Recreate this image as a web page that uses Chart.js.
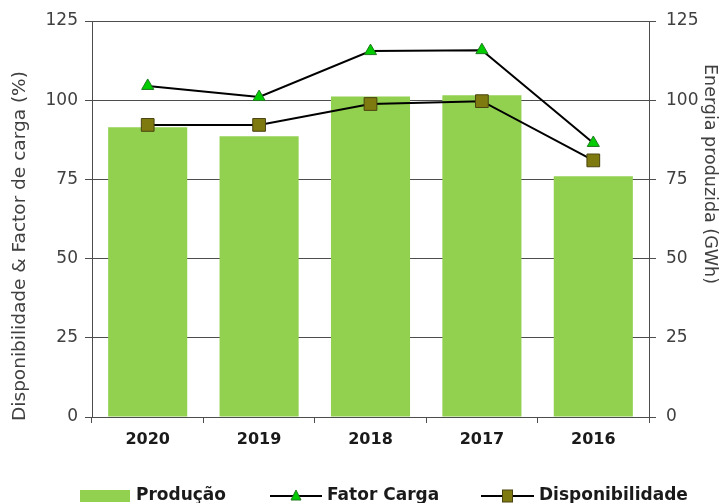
<!DOCTYPE html>
<html>
<head>
<meta charset="utf-8">
<script src="https://cdn.jsdelivr.net/npm/chart.js@4/dist/chart.umd.min.js"></script>
<style>
  html, body { margin: 0; padding: 0; background: #fff; }
  #wrap { width: 722px; height: 503px; }
</style>
</head>
<body>
<div id="wrap"><canvas id="chart"></canvas></div>
<script>
const years = ['2020', '2019', '2018', '2017', '2016'];
const producao = [91.5, 88.6, 101.2, 101.6, 76.0];
const fatorCarga = [104.5, 101.0, 115.5, 115.8, 86.5];
const disponibilidade = [92.2, 92.2, 98.8, 99.7, 81.0];
const yTicks = [0, 25, 50, 75, 100, 125];

const FONT = "'DejaVu Sans', sans-serif";
const GREEN = '#92d050';
const AXIS = '#4d4d4d';
const TEXT = '#404040';

// axis titles placed by hand so they can sit off-centre like the original layout
const axisTitles = {
  id: 'axisTitles',
  afterDraw(chart) {
    const ctx = chart.ctx;
    ctx.save();
    ctx.fillStyle = TEXT;
    ctx.textAlign = 'center';
    ctx.textBaseline = 'middle';

    ctx.font = '18.5px ' + FONT;
    ctx.save();
    ctx.translate(20, 246);
    ctx.rotate(-Math.PI / 2);
    ctx.fillText('Disponibilidade & Factor de carga (%)', 0, 0);
    ctx.restore();

    ctx.font = '17.5px ' + FONT;
    ctx.translate(710, 174);
    ctx.rotate(Math.PI / 2);
    ctx.fillText('Energia produzida (GWh)', 0, 0);
    ctx.restore();
  }
};

// legend drawn by hand under the axis: wide box for bars, line + marker for series
const bottomLegend = {
  id: 'bottomLegend',
  afterDraw(chart) {
    const ctx = chart.ctx;
    const y = 496;
    ctx.save();
    ctx.font = 'bold 17px ' + FONT;
    ctx.textBaseline = 'middle';

    ctx.fillStyle = GREEN;
    ctx.fillRect(80, y - 6, 50, 12);
    ctx.fillStyle = '#1a1a1a';
    ctx.fillText('Produção', 136, y);

    const lineItem = (x0, x1, tx, label, drawMarker) => {
      ctx.strokeStyle = '#000';
      ctx.lineWidth = 2;
      ctx.beginPath();
      ctx.moveTo(x0, y);
      ctx.lineTo(x1, y);
      ctx.stroke();
      drawMarker((x0 + x1) / 2);
      ctx.fillStyle = '#1a1a1a';
      ctx.fillText(label, tx, y);
    };

    lineItem(270, 322, 327, 'Fator Carga', cx => {
      ctx.fillStyle = '#00cc00';
      ctx.strokeStyle = '#1f7a1f';
      ctx.lineWidth = 1;
      ctx.beginPath();
      ctx.moveTo(cx, y - 6);
      ctx.lineTo(cx + 5, y + 4);
      ctx.lineTo(cx - 5, y + 4);
      ctx.closePath();
      ctx.fill();
      ctx.stroke();
    });

    lineItem(481, 534, 539, 'Disponibilidade', cx => {
      ctx.fillStyle = '#7f7a10';
      ctx.strokeStyle = '#4a4410';
      ctx.lineWidth = 1;
      ctx.fillRect(cx - 5, y - 6, 10, 12);
      ctx.strokeRect(cx - 5, y - 6, 10, 12);
    });
    ctx.restore();
  }
};

const data = {
  labels: years,
  datasets: [
    {
      type: 'line',
      label: 'Fator Carga',
      data: fatorCarga,
      yAxisID: 'y',
      borderColor: '#000',
      borderWidth: 2,
      pointStyle: 'triangle',
      pointRadius: 7,
      pointBackgroundColor: '#00cc00',
      pointBorderColor: '#1f7a1f',
      pointBorderWidth: 1,
      order: 0
    },
    {
      type: 'line',
      label: 'Disponibilidade',
      data: disponibilidade,
      yAxisID: 'y',
      borderColor: '#000',
      borderWidth: 2,
      pointStyle: 'rect',
      pointRadius: 9,
      pointBackgroundColor: '#7f7a10',
      pointBorderColor: '#4a4410',
      pointBorderWidth: 1,
      order: 1
    },
    {
      type: 'bar',
      label: 'Produção',
      data: producao,
      yAxisID: 'y1',
      backgroundColor: GREEN,
      borderWidth: 0,
      inflateAmount: 0,
      barPercentage: 0.71,
      categoryPercentage: 1,
      order: 2
    }
  ]
};

const tickFont = { family: FONT, size: 17 };
const fixedTicks = axis => { axis.ticks = yTicks.map(v => ({ value: v })); };

new Chart(document.getElementById('chart'), {
  type: 'bar',
  data: data,
  options: {
    responsive: true,
    maintainAspectRatio: false,
    animation: false,
    layout: { padding: { top: 21, right: 0, bottom: 46, left: 0 } },
    plugins: {
      legend: { display: false },
      tooltip: { enabled: false }
    },
    scales: {
      x: {
        offset: true,
        afterFit: axis => { axis.height = 40; },
        grid: { offset: true, drawOnChartArea: false, drawTicks: true, tickLength: 6, color: AXIS },
        border: { display: true, color: AXIS, width: 1 },
        ticks: { color: '#1a1a1a', font: { family: FONT, size: 16, weight: 'bold' }, padding: 7 }
      },
      y: {
        position: 'left',
        min: 0,
        max: 125,
        afterBuildTicks: fixedTicks,
        afterFit: axis => { axis.width = 92; },
        grid: { color: AXIS, tickLength: 7 },
        border: { display: true, color: AXIS, width: 1 },
        ticks: { color: TEXT, font: tickFont, padding: 7 }
      },
      y1: {
        position: 'right',
        min: 0,
        max: 125,
        afterBuildTicks: fixedTicks,
        afterFit: axis => { axis.width = 73; },
        grid: { drawOnChartArea: false, color: AXIS, tickLength: 7 },
        border: { display: true, color: AXIS, width: 1 },
        ticks: { color: TEXT, font: tickFont, padding: 10 }
      }
    }
  },
  plugins: [axisTitles, bottomLegend]
});
</script>
</body>
</html>
